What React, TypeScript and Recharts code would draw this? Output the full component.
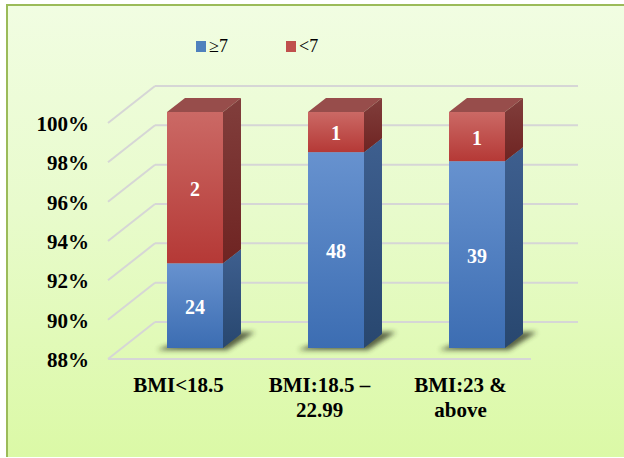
import React from "react";
import {
  BarChart,
  Bar,
  XAxis,
  YAxis,
  CartesianGrid,
  Legend,
  LabelList,
} from "recharts";

// ---- data ----
const categories = ["BMI<18.5", "BMI:18.5 –\n22.99", "BMI:23 &\nabove"];
const highCounts = [24, 48, 39]; // ≥7
const lowCounts = [2, 1, 1]; // <7
const seriesNames = ["≥7", "<7"];
const yTicks = [0.88, 0.9, 0.92, 0.94, 0.96, 0.98, 1.0];
const axisMin = 0.88;
const axisMax = 1.0;

const data = categories.map((c, i) => {
  const total = highCounts[i] + lowCounts[i];
  const share = highCounts[i] / total;
  return {
    name: c,
    high: highCounts[i],
    low: lowCounts[i],
    highRange: [axisMin, share],
    lowRange: [share, axisMax],
  };
});

// ---- 3D geometry ----
const BAR_DX = 18;
const BAR_DY = 14;
const FRONT_DX = -16; // front plane relative to bar plane
const FRONT_DY = 11;
const BACK_DX = 31;
const BACK_DY = -26;
const GRID = "#D6D6D6";
const FONT = "Liberation Serif, Times New Roman, serif";

const makeShape = (kind: "blue" | "red") => (props: any) => {
  const { x, y, width: w, height: h } = props;
  if (w == null || h == null || isNaN(y)) return null;
  const side = `${x + w},${y} ${x + w + BAR_DX},${y - BAR_DY} ${x + w + BAR_DX},${y + h - BAR_DY} ${x + w},${y + h}`;
  const top = `${x},${y} ${x + BAR_DX},${y - BAR_DY} ${x + w + BAR_DX},${y - BAR_DY} ${x + w},${y}`;
  const b = y + h;
  return (
    <g>
      {kind === "blue" && (
        <polygon
          points={`${x - 10},${b + 2} ${x + w + 4},${b + 2} ${x + w + BAR_DX + 14},${b - BAR_DY - 2} ${x + w + BAR_DX},${b - BAR_DY - 2} ${x},${b - 2}`}
          fill="#2a2f1a"
          opacity={0.75}
          filter="url(#shadowBlur)"
        />
      )}
      <polygon points={top} fill={kind === "blue" ? "#4a6f9f" : "#974d4b"} />
      <polygon points={side} fill={`url(#${kind}Side)`} />
      <rect x={x} y={y} width={w} height={h} fill={`url(#${kind}Front)`} />
    </g>
  );
};

const HGrid = (props: any) => {
  const { x1, x2, y1, index } = props;
  const y = y1;
  const isFloor = index === 0;
  return (
    <g key={`g-${index}-${y}`}>
      <line x1={x1 + BACK_DX} x2={x2 + BACK_DX} y1={y + BACK_DY} y2={y + BACK_DY} stroke={GRID} strokeWidth={2} />
      <line x1={x1 + FRONT_DX} x2={x1 + BACK_DX} y1={y + FRONT_DY} y2={y + BACK_DY} stroke={GRID} strokeWidth={2} />
      {isFloor && (
        <line x1={x1 + FRONT_DX} x2={x2 + FRONT_DX} y1={y + FRONT_DY} y2={y + FRONT_DY} stroke={GRID} strokeWidth={2} />
      )}
    </g>
  );
};

const YTick = (props: any) => {
  const { x, y, payload } = props;
  return (
    <text
      x={x}
      y={y + FRONT_DY + 1}
      textAnchor="end"
      dominantBaseline="central"
      style={{ fontFamily: FONT, fontWeight: "bold", fontSize: 21 }}
      fill="#000"
    >
      {`${Math.round(payload.value * 100)}%`}
    </text>
  );
};

const XTick = (props: any) => {
  const { x, y, payload } = props;
  const lines = String(payload.value).split("\n");
  return (
    <text
      x={x + FRONT_DX}
      y={y}
      textAnchor="middle"
      style={{ fontFamily: FONT, fontWeight: "bold", fontSize: 21 }}
      fill="#000"
    >
      {lines.map((l, i) => (
        <tspan key={i} x={x + FRONT_DX} dy={i === 0 ? 44 : 25}>
          {l}
        </tspan>
      ))}
    </text>
  );
};

const renderValueLabel = (props: any) => {
  const { x, y, width, height, value } = props;
  return (
    <text
      x={x + width / 2}
      y={y + height / 2 + 1}
      textAnchor="middle"
      dominantBaseline="central"
      style={{ fontFamily: FONT, fontWeight: "bold", fontSize: 20 }}
      fill="#fff"
    >
      {value}
    </text>
  );
};

const LegendContent = (props: any) => {
  const items = (props.payload || [])
    .filter((p: any) => p.type !== "none")
    .slice()
    .sort((a: any, b: any) => seriesNames.indexOf(a.value) - seriesNames.indexOf(b.value));
  return (
    <div style={{ display: "flex", alignItems: "center", fontFamily: FONT, fontSize: 18, color: "#000" }}>
      {items.map((p: any, i: number) => (
        <div key={i} style={{ display: "flex", alignItems: "center", width: 90 }}>
          <span
            style={{
              display: "inline-block",
              width: 10,
              height: 11,
              marginRight: 3,
              background: p.color,
            }}
          />
          <span>{p.value}</span>
        </div>
      ))}
    </div>
  );
};

export default function App() {
  return (
    <div style={{ position: "absolute", left: 0, top: 0, width: 624, height: 458, background: "#fff", overflow: "hidden" }}>
      <div
        style={{
          position: "absolute",
          left: 6,
          top: 4,
          width: 640,
          height: 453,
          boxSizing: "border-box",
          borderLeft: "2px solid #9BBB59",
          borderTop: "2px solid #9BBB59",
          background: "linear-gradient(180deg, #F1FDE2 0%, #E8FBCC 45%, #DBF9A6 100%)",
        }}
      />
      <div style={{ position: "absolute", left: 0, top: 0 }}>
        <BarChart
          width={624}
          height={458}
          data={data}
          margin={{ top: 112, right: 77, bottom: 50, left: 0 }}
          barSize={56}
        >
          <defs>
            <linearGradient id="blueFront" x1="0" y1="0" x2="0" y2="1">
              <stop offset="0%" stopColor="#6792CF" />
              <stop offset="100%" stopColor="#3C6DB2" />
            </linearGradient>
            <linearGradient id="blueSide" x1="0" y1="0" x2="0" y2="1">
              <stop offset="0%" stopColor="#3E5F8F" />
              <stop offset="100%" stopColor="#28476F" />
            </linearGradient>
            <linearGradient id="redFront" x1="0" y1="0" x2="0" y2="1">
              <stop offset="0%" stopColor="#CB6965" />
              <stop offset="100%" stopColor="#B53936" />
            </linearGradient>
            <linearGradient id="redSide" x1="0" y1="0" x2="0" y2="1">
              <stop offset="0%" stopColor="#813E3C" />
              <stop offset="100%" stopColor="#6F2422" />
            </linearGradient>
            <filter id="shadowBlur" x="-50%" y="-50%" width="200%" height="200%">
              <feGaussianBlur stdDeviation="2.5" />
            </filter>
          </defs>
          <CartesianGrid vertical={false} horizontal={(p: any) => <HGrid {...p} />} stroke={GRID} />
          <XAxis
            xAxisId="a"
            dataKey="name"
            axisLine={false}
            tickLine={false}
            tickSize={0}
            tickMargin={0}
            height={60}
            interval={0}
            tick={<XTick />}
          />
          <XAxis xAxisId="b" dataKey="name" hide />
          <YAxis
            type="number"
            domain={[axisMin, axisMax]}
            ticks={yTicks}
            width={124}
            axisLine={false}
            tickLine={false}
            tickSize={0}
            tickMargin={35}
            tick={<YTick />}
          />
          <Legend
            layout="horizontal"
            verticalAlign="middle"
            align="center"
            wrapperStyle={{ position: "absolute", top: 36, left: 196, width: 300 }}
            content={<LegendContent />}
          />
          <Bar
            xAxisId="a"
            dataKey="highRange"
            name={seriesNames[0]}
            fill="#4F81BD"
            shape={makeShape("blue")}
            isAnimationActive={false}
          >
            <LabelList dataKey="high" content={renderValueLabel} />
          </Bar>
          <Bar
            xAxisId="b"
            dataKey="lowRange"
            name={seriesNames[1]}
            fill="#C0504D"
            shape={makeShape("red")}
            isAnimationActive={false}
          >
            <LabelList dataKey="low" content={renderValueLabel} />
          </Bar>
        </BarChart>
      </div>
    </div>
  );
}
